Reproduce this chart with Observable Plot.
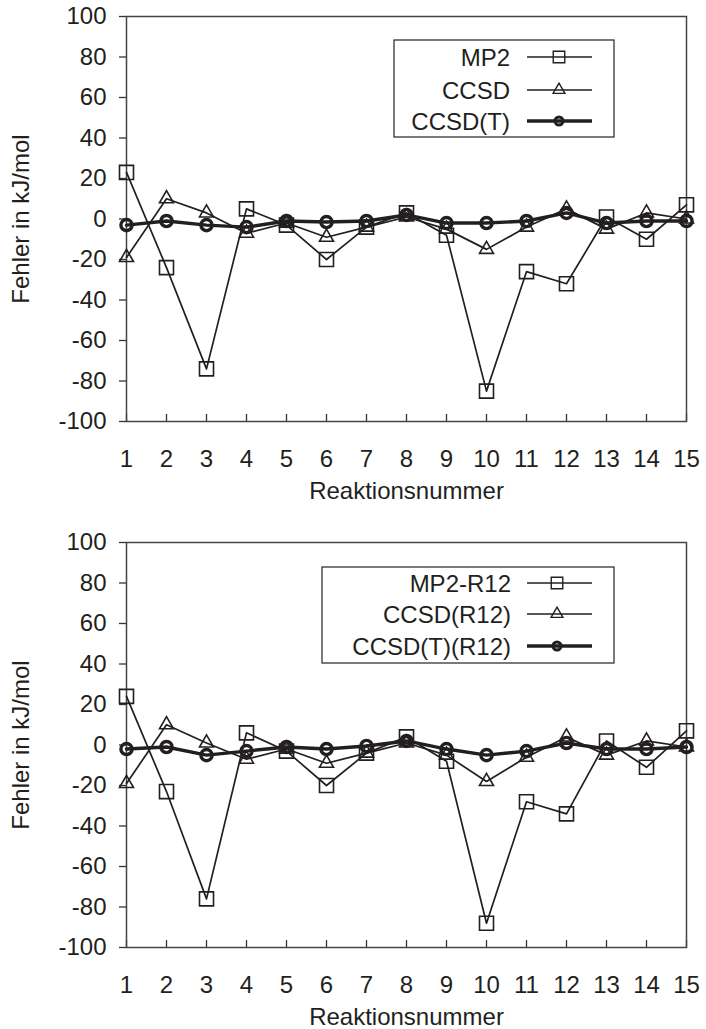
<!DOCTYPE html>
<html><head><meta charset="utf-8">
<script src="https://cdn.jsdelivr.net/npm/d3@7"></script>
<script src="https://cdn.jsdelivr.net/npm/@observablehq/plot@0.6"></script>
<style>
body{margin:0;background:#fff;font-family:"Liberation Sans",Arial,sans-serif}
.chart{position:relative;width:706px}
.legend{position:absolute;left:0;top:0;overflow:visible}
</style>
</head><body>
<div id="c1" class="chart"></div>
<div id="c2" class="chart"></div>
<script>
const reactions = [1,2,3,4,5,6,7,8,9,10,11,12,13,14,15];
const yTicks = [-100,-80,-60,-40,-20,0,20,40,60,80,100];
const namesTop = ["MP2","CCSD","CCSD(T)"];
const namesBottom = ["MP2-R12","CCSD(R12)","CCSD(T)(R12)"];
const mp2     = [23,-24,-74,5,-3,-20,-4,3,-8,-85,-26,-32,1,-10,7];
const ccsd    = [-19,10,3,-7,-2,-9,-4,1,-5,-15,-4,5,-5,3,0];
const ccsdT   = [-3,-1,-3,-4,-1,-1.5,-1,2,-2,-2,-1,3,-2,-1,-1];
const mp2R12  = [24,-23,-76,6,-3,-20,-4,4,-8,-88,-28,-34,2,-11,7];
const ccsdR12 = [-19,10,1,-7,-2,-9,-4,1,-5,-18,-6,4,-5,2,-1];
const ccsdTR12= [-2,-1,-5,-3,-1,-2,-0.5,2,-2,-5,-3,1,-2,-2,-1];
const xLabel = "Reaktionsnummer";
const yLabel = "Fehler in kJ/mol";

const ink = "#231f20";
const FONT = "Liberation Sans, Arial, sans-serif";
const styles = [
  {symbol:"square",   r:7.9, sw:1.6, lw:1.7, lr:6.5, lsw:1.4, llw:1.4},
  {symbol:"triangle", r:5.2, sw:1.6, lw:1.7, lr:4.4, lsw:1.4, llw:1.4},
  {symbol:"circle",   r:5.6, sw:3.4, lw:3.4, lr:4.0, lsw:3.0, llw:3.4}
];

function makeChart(el, names, series, height, marginBottom, legend) {
  const data = [];
  series.forEach((vals, si) => vals.forEach((v, i) => data.push({name: names[si], si, x: reactions[i], y: v})));
  const marks = [];
  names.forEach((n, si) => {
    const d = data.filter(r => r.si === si);
    marks.push(Plot.line(d, {x:"x", y:"y", stroke: ink, strokeWidth: styles[si].lw}));
    marks.push(Plot.dot(d, {x:"x", y:"y", symbol: () => styles[si].symbol, r: styles[si].r, stroke: ink, fill: "none", strokeWidth: styles[si].sw}));
  });
  const p = Plot.plot({
    width: 706, height,
    marginLeft: 126, marginRight: 20, marginTop: 16, marginBottom,
    style: {fontSize: "24px", fontFamily: FONT, color: ink, background: "white", overflow: "visible"},
    x: {domain: [1, 15]},
    y: {domain: [-100, 100]},
    marks: [
      Plot.axisY({ticks: yTicks, tickSize: 7, tickPadding: 13, tickFormat: d => String(d), stroke: "#333", strokeWidth: 1.3,
        label: yLabel, labelAnchor: "center", labelArrow: "none", labelOffset: 115}),
      Plot.axisX({ticks: reactions, tickSize: 0, tickPadding: 28, tickFormat: d => String(d),
        label: xLabel, labelAnchor: "center", labelArrow: "none", labelOffset: 77}),
      Plot.axisX({ticks: reactions, tickSize: -7, text: null, label: null, stroke: "#333", strokeWidth: 1.3}),
      Plot.frame({stroke: "#444", strokeWidth: 1.5}),
      ...marks
    ]
  });
  el.appendChild(p);
  // legend box
  const svg = d3.select(el).append("svg").attr("class","legend").attr("width",706).attr("height",height);
  svg.append("rect").attr("x", legend.left).attr("y", legend.top).attr("width", legend.right - legend.left)
     .attr("height", legend.bottom - legend.top).attr("fill","white").attr("stroke","#333").attr("stroke-width",1.3);
  names.forEach((n, si) => {
    const cy = legend.top + legend.rows[si];
    svg.append("text").attr("x", legend.textRight).attr("y", cy).attr("dy","0.36em").attr("text-anchor","end")
       .attr("font-size",24).attr("fill",ink).attr("font-family",FONT).text(n);
    svg.append("line").attr("x1", legend.lineX1).attr("x2", legend.lineX2).attr("y1", cy).attr("y2", cy)
       .attr("stroke", ink).attr("stroke-width", styles[si].llw);
    const sym = {square: d3.symbolSquare, triangle: d3.symbolTriangle, circle: d3.symbolCircle}[styles[si].symbol];
    svg.append("path").attr("transform", `translate(${legend.markX},${cy})`)
       .attr("d", d3.symbol(sym, Math.PI * styles[si].lr * styles[si].lr)())
       .attr("fill", "none").attr("stroke", ink).attr("stroke-width", styles[si].lsw);
  });
}

makeChart(document.getElementById("c1"), namesTop, [mp2, ccsd, ccsdT], 526, 105,
  {left: 394, top: 40, right: 614, bottom: 137, rows: [17, 50, 81], textRight: 510, lineX1: 527, lineX2: 592, markX: 559});
makeChart(document.getElementById("c2"), namesBottom, [mp2R12, ccsdR12, ccsdTR12], 503, 82,
  {left: 322, top: 41, right: 614, bottom: 137, rows: [16, 47, 79], textRight: 511, lineX1: 527, lineX2: 592, markX: 557});
</script>
</body></html>
